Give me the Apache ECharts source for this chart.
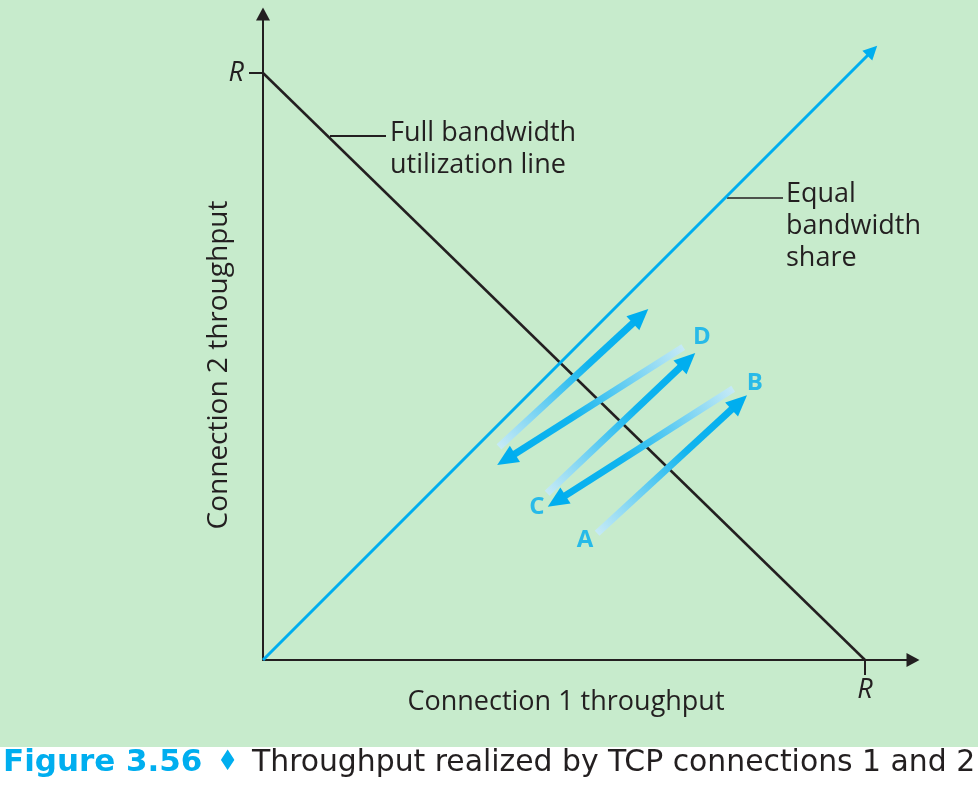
<!DOCTYPE html>
<html>
<head>
<meta charset="utf-8">
<script src="https://cdn.jsdelivr.net/npm/echarts@6/dist/echarts.min.js"></script>
<style>
  html, body { margin: 0; padding: 0; background: #c7ebcc; }
  #chart { width: 978px; height: 792px; }
</style>
</head>
<body>
<div id="chart"></div>
<script>
// fairness diagram, axes in units of R
const xMax = 1.0797;
const yMax = 1.1005;
const tickValues = [1];
const tickLabel = 'R';

const fullLineX = [0, 1];
const fullLineY = [1, 0];
const equalLineX = [0, 1.012];
const equalLineY = [0, 1.038];

// zig-zag arrows A -> B -> C -> D -> ...
const arrowFromX = [0.555, 0.781, 0.472, 0.698, 0.392];
const arrowFromY = [0.216, 0.462, 0.284, 0.533, 0.363];
const arrowToX = [0.804, 0.473, 0.718, 0.389, 0.640];
const arrowToY = [0.451, 0.261, 0.523, 0.332, 0.598];

const pointNames = ['A', 'B', 'C', 'D'];
const pointX = [0.535, 0.817, 0.455, 0.729];
const pointY = [0.204, 0.472, 0.261, 0.550];

const ink = '#231f20';
const blue = '#00aeef';
const font = '"Open Sans", "Noto Sans", sans-serif';
const capFont = '"DejaVu Sans Condensed", "DejaVu Sans", sans-serif';

const myChart = echarts.init(document.getElementById('chart'));

function renderArrow(params, api) {
  const p0 = api.coord([api.value(0), api.value(1)]);
  const p1 = api.coord([api.value(2), api.value(3)]);
  const dx = p1[0] - p0[0], dy = p1[1] - p0[1];
  const len = Math.hypot(dx, dy);
  const ux = dx / len, uy = dy / len;
  const head = 21, half = 9.5;
  const bx = p1[0] - ux * head, by = p1[1] - uy * head;
  const nx = -uy, ny = ux;
  return {
    type: 'group',
    children: [{
      type: 'line',
      shape: {x1: p0[0], y1: p0[1], x2: bx + ux * 3, y2: by + uy * 3},
      style: {
        stroke: new echarts.graphic.LinearGradient(p0[0], p0[1], p1[0], p1[1], [
          {offset: 0, color: '#c6eaf6'},
          {offset: 0.6, color: '#10b4ef'},
          {offset: 1, color: blue}
        ], true),
        lineWidth: 7
      }
    }, {
      type: 'polygon',
      shape: {points: [[p1[0], p1[1]], [bx + nx * half, by + ny * half], [bx - nx * half, by - ny * half]]},
      style: {fill: blue}
    }]
  };
}

myChart.setOption({
  backgroundColor: '#c7ebcc',
  animation: false,
  grid: {left: 263, right: 65, top: 14, bottom: 132, outerBoundsMode: 'none'},
  xAxis: {
    type: 'value', min: 0, max: xMax,
    splitLine: {show: false},
    axisLine: {
      lineStyle: {color: ink, width: 2},
      symbol: ['none', 'triangle'],
      symbolSize: [14, 13]
    },
    axisTick: {show: true, customValues: tickValues, length: 15, lineStyle: {color: ink, width: 2}},
    axisLabel: {
      customValues: tickValues, formatter: () => tickLabel,
      fontStyle: 'italic', fontSize: 27, fontFamily: font, color: ink, margin: 17
    }
  },
  yAxis: {
    type: 'value', min: 0, max: yMax,
    splitLine: {show: false},
    axisLine: {
      lineStyle: {color: ink, width: 2},
      symbol: ['none', 'triangle'],
      symbolSize: [14, 13]
    },
    axisTick: {show: true, customValues: tickValues, length: 14, lineStyle: {color: ink, width: 2}},
    axisLabel: {
      customValues: tickValues, formatter: () => tickLabel,
      fontStyle: 'italic', fontSize: 27, fontFamily: font, color: ink, margin: 19
    }
  },
  series: [{
    type: 'lines',
    coordinateSystem: 'cartesian2d',
    silent: true,
    data: [{coords: fullLineX.map((x, i) => [x, fullLineY[i]])}],
    lineStyle: {color: ink, width: 2.5, opacity: 1}
  }, {
    type: 'lines',
    coordinateSystem: 'cartesian2d',
    silent: true,
    symbol: ['none', 'triangle'],
    symbolSize: 14,
    data: [{coords: equalLineX.map((x, i) => [x, equalLineY[i]])}],
    lineStyle: {color: blue, width: 3, opacity: 1},
    itemStyle: {color: blue}
  }, {
    type: 'custom',
    renderItem: renderArrow,
    encode: {x: [0, 2], y: [1, 3]},
    data: arrowFromX.map((x, i) => [x, arrowFromY[i], arrowToX[i], arrowToY[i]])
  }, {
    type: 'scatter',
    symbolSize: 1,
    itemStyle: {color: 'transparent'},
    label: {
      show: true, position: 'inside',
      formatter: p => p.name,
      fontSize: 24, fontWeight: 'bold', fontFamily: font, color: blue
    },
    data: pointNames.map((n, i) => ({name: n, value: [pointX[i], pointY[i]]}))
  }],
  graphic: [
    {type: 'line', shape: {x1: 330, y1: 136, x2: 386, y2: 136}, style: {stroke: ink, lineWidth: 2}},
    {type: 'text', x: 390, y: 117, style: {text: 'Full bandwidth\nutilization line', font: '27px ' + font, fill: ink, lineHeight: 32, verticalAlign: 'top'}},
    {type: 'line', shape: {x1: 727, y1: 198, x2: 783, y2: 198}, style: {stroke: ink, lineWidth: 1.5}},
    {type: 'text', x: 786, y: 178, style: {text: 'Equal\nbandwidth\nshare', font: '27px ' + font, fill: ink, lineHeight: 32, verticalAlign: 'top'}},
    {type: 'text', x: 566, y: 702, style: {text: 'Connection 1 throughput', font: '27px ' + font, fill: ink, align: 'center', verticalAlign: 'middle'}},
    {type: 'text', x: 219, y: 365, rotation: Math.PI / 2, style: {text: 'Connection 2 throughput', font: '28px ' + font, fill: ink, align: 'center', verticalAlign: 'middle'}},
    {type: 'rect', shape: {x: 0, y: 747, width: 978, height: 45}, style: {fill: '#ffffff'}},
    {type: 'text', x: 3, y: 763, scaleX: 1.11, style: {text: 'Figure 3.56', font: 'bold 31px ' + capFont, fill: blue, verticalAlign: 'middle'}},
    {type: 'text', x: 217, y: 763, scaleX: 0.85, style: {text: '♦', font: '28px "DejaVu Sans", sans-serif', fill: blue, verticalAlign: 'middle'}},
    {type: 'text', x: 252, y: 763, scaleX: 1.07, style: {text: 'Throughput realized by TCP connections 1 and 2', font: '31px ' + capFont, fill: ink, verticalAlign: 'middle'}}
  ]
});
</script>
</body>
</html>
